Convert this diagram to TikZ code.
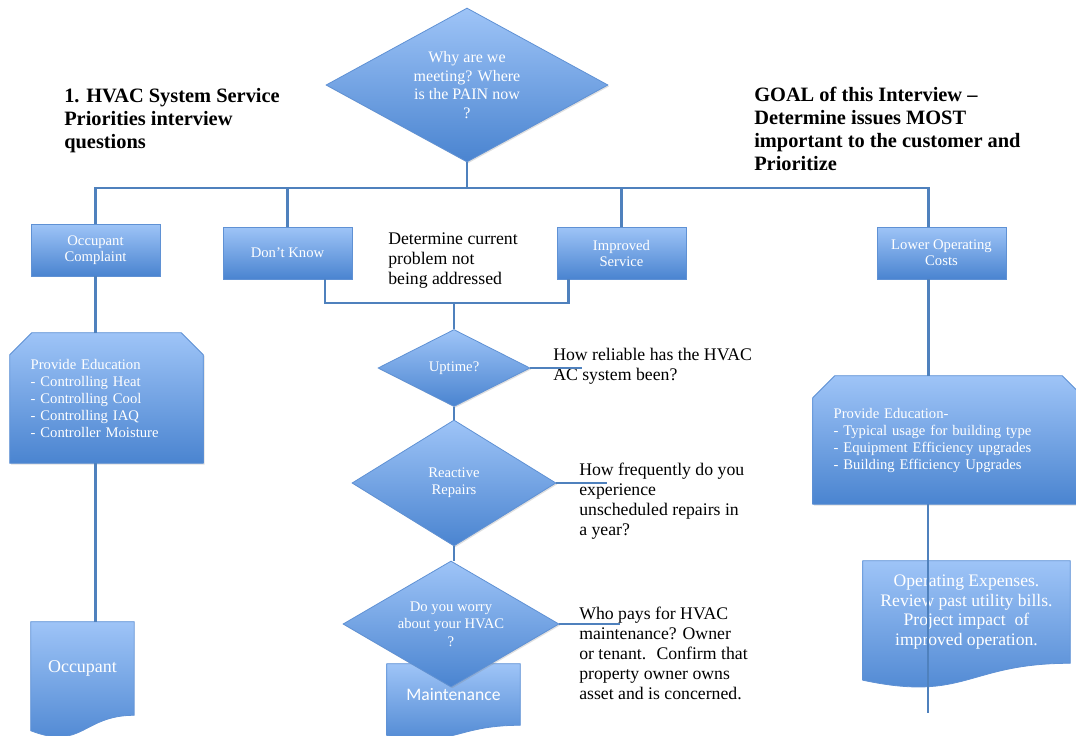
\documentclass[tikz,border=0pt]{standalone}
\usepackage{fontspec}
\setmainfont{Liberation Serif}
\newfontfamily\calfont{Carlito}
\usetikzlibrary{shapes.geometric,shadows,backgrounds,calc}
\definecolor{boxtop}{RGB}{158,196,247}
\definecolor{boxbot}{RGB}{74,132,208}
\definecolor{boxline}{RGB}{95,145,212}
\definecolor{linkblue}{RGB}{79,129,189}

\begin{document}
\begin{tikzpicture}[x=0.75pt,y=-0.75pt]
    \tikzstyle{line} = [draw=linkblue, line width=2.2pt]
    \tikzstyle{bluefill} = [draw=boxline, line width=0.6pt, top color=boxtop, bottom color=boxbot]
    \tikzstyle{shadowed} = [bluefill, drop shadow={opacity=0.25, shadow xshift=1pt, shadow yshift=-1pt}]
    \tikzstyle{rec} = [rectangle, shadowed, minimum width=96.75pt, minimum height=39pt, align=center, text=white, font=\fontsize{11}{12}\selectfont]
    \tikzstyle{dec} = [diamond, shadowed, inner sep=0pt, aspect=2, align=center, text=white, font=\fontsize{11}{13}\selectfont]
    \tikzstyle{edu} = [rectangle, inner xsep=15.5pt, align=left, text=white, font=\fontsize{11}{12.75}\selectfont]
    \tikzstyle{doc} = [rectangle, inner sep=0pt, align=center, text=white]
    \tikzstyle{txt} = [anchor=west, align=left, inner sep=0pt, font=\fontsize{13.3}{15}\selectfont]
    \tikzstyle{head} = [anchor=west, align=left, inner sep=0pt, font=\bfseries\fontsize{15.3}{17}\selectfont]

    \useasboundingbox (0,0) rectangle (1076,736);

    % headings
    \node(title) [head] at (64,120.5) {1. HVAC System Service\\ Priorities interview\\ questions};
    \node(goal) [head, font=\bfseries\fontsize{15.3}{17.25}\selectfont] at (754,128.5) {GOAL of this Interview --\\ Determine issues MOST\\ important to the customer and\\ Prioritize};

    % top level
    \node(why) [dec, minimum width=211.5pt, minimum height=115.5pt, font=\fontsize{12}{14}\selectfont] at (467,85) {Why are we\\ meeting? Where\\ is the PAIN now\\ ?};
    \node(occc) [rec] at (95.5,250) {Occupant\\ Complaint};
    \node(dk) [rec] at (287.5,253) {Don't Know};
    \node(imp) [rec] at (621.5,253) {Improved\\ Service};
    \node(lowc) [rec] at (941.5,253) {Lower Operating\\ Costs};
    \node(det) [txt] at (388,261) {Determine current\\ problem not\\ being addressed};

    % middle column
    \node(up) [dec, minimum width=114pt, minimum height=57.75pt] at (454,368) {Uptime?};
    \node(rr) [dec, minimum width=153pt, minimum height=94.5pt] at (454,483) {Reactive\\ Repairs};
    \node(worry) [dec, minimum width=162pt, minimum height=94.5pt] at (451,624) {Do you worry\\ about your HVAC\\ ?};
    \node(maint) [doc, minimum width=99.75pt, minimum height=45.75pt, font=\calfont\fontsize{13.2}{15}\selectfont] at (453.5,694.5) {Maintenance};
    \node(q1) [txt] at (553,366) {How reliable has the HVAC\\ AC system been?};
    \node(q2) [txt] at (579,501.5) {How frequently do you\\ experience\\ unscheduled repairs in\\ a year?};
    \node(q3) [txt] at (579,653) {Who pays for HVAC\\ maintenance? Owner\\ or tenant.~ Confirm that\\ property owner owns\\ asset and is concerned.};

    % side columns
    \node(edu1) [edu, minimum width=144.75pt, minimum height=97.5pt, text width=113.75pt] at (106.5,398) {Provide Education\\ - Controlling Heat\\ - Controlling Cool\\ - Controlling IAQ\\ - Controller Moisture};
    \node(occ) [doc, minimum width=77.25pt, minimum height=69.75pt, font=\fontsize{13.5}{15}\selectfont] at (82.5,668.5) {Occupant};
    \node(edu2) [edu, minimum width=203.25pt, minimum height=96pt, text width=172.25pt] at (948.5,440) {Provide Education-\\ - Typical usage for building type\\ - Equipment Efficiency upgrades\\ - Building Efficiency Upgrades};
    \node(opex) [doc, minimum width=155.25pt, minimum height=76.5pt, font=\fontsize{13.2}{14.7}\selectfont] at (966.5,612) {Operating Expenses.\\ Review past utility bills.\\ Project impact~ of\\ improved operation.};

    \coordinate (bus) at (467,188);
    \coordinate (merge) at (454,303);
    \coordinate (q1end) at (582,368);
    \coordinate (q2end) at (607,483);
    \coordinate (q3end) at (620,624);
    \coordinate (rend) at (928,713);

    % outlines behind the text
    \begin{pgfonlayer}{background}
    \foreach \e in {edu1,edu2}
      \path[shadowed] ([xshift=16.5pt]\e.north west) -- ([xshift=-16.5pt]\e.north east)
        -- ([yshift=-16.5pt]\e.north east) -- (\e.south east) -- (\e.south west)
        -- ([yshift=-16.5pt]\e.north west) -- cycle;
    \foreach \d in {occ,maint,opex}
      \path[bluefill] let \p1=(\d.north), \p2=(\d.south), \n1={\y1-\y2} in
        (\d.north west) -- (\d.north east) -- (\d.south east)
        .. controls (\d.south) and ([yshift=-0.381*\n1]\d.south) .. ([yshift=-0.165*\n1]\d.south west) -- cycle;
    \end{pgfonlayer}

    \draw[line] (why) -- (bus);
    \draw[line] (occc.north) |- (bus) -| ([xshift=-9.75pt]lowc.north);
    \draw[line] (dk.north) -- (dk.north |- bus);
    \draw[line] (imp.north) -- (imp.north |- bus);
    \draw[line] ([xshift=28.1pt]dk.south) |- (merge) -| ([xshift=-40.1pt]imp.south);
    \draw[line] (merge) -- (up);
    \draw[line] (up) -- (q1end);
    \draw[line] (up) -- (rr);
    \draw[line] (rr) -- (q2end);
    \draw[line] (rr.south) -- (rr.south |- worry.north);
    \draw[line] (worry.east) -- (q3end);
    \draw[line] (occc.south) -- (occc.south |- edu1.north);
    \draw[line] (occc.south |- edu1.south) -- (occc.south |- occ.north);
    \draw[line] ([xshift=-9.75pt]lowc.south) -- ([xshift=-9.75pt]lowc.south |- edu2.north);
    \draw[line] (rend |- edu2.south) -- (rend);
\end{tikzpicture}
\end{document}
